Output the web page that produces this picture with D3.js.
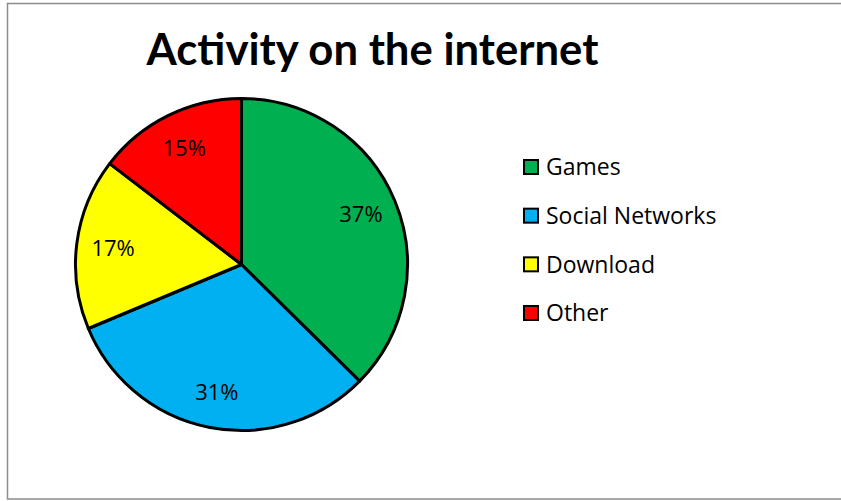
<!DOCTYPE html>
<html>
<head>
<meta charset="utf-8">
<script src="https://cdn.jsdelivr.net/npm/d3@7"></script>
<style>
  body { margin: 0; background: #fff; }
  svg { display: block; font-family: "Open Sans", sans-serif; }
</style>
</head>
<body>
<svg width="841" height="501"></svg>
<script>
const categories = ["Games", "Social Networks", "Download", "Other"];
const values = [37.4, 31.3, 16.7, 14.6];
const colors = ["#00B050", "#00B0F0", "#FFFF00", "#FF0000"];
const title = "Activity on the internet";

const svg = d3.select("svg");

// cadre gris
svg.append("rect")
    .attr("x", 7.5).attr("y", 3.5)
    .attr("width", 840).attr("height", 495.5)
    .attr("fill", "#fff")
    .attr("stroke", "#8c8c8c")
    .attr("stroke-width", 1.5);

// titre, taille ajustée pour la largeur
const t = svg.append("text")
    .attr("x", 372.5).attr("y", 65)
    .attr("text-anchor", "middle")
    .style("font-family", "Lato, sans-serif")
    .style("font-weight", "bold")
    .style("font-size", "36px")
    .text(title);
const w = t.node().getComputedTextLength();
t.style("font-size", (36 * 452 / w) + "px");

// camembert
const cx = 241.5, cy = 264.5, radius = 166;
const pie = d3.pie().sort(null).value(d => d);
const arc = d3.arc().innerRadius(0).outerRadius(radius);
const arcs = pie(values);

const g = svg.append("g").attr("transform", `translate(${cx},${cy})`);

g.selectAll("path")
    .data(arcs)
    .enter().append("path")
    .attr("d", arc)
    .attr("fill", (d, i) => colors[i])
    .attr("stroke", "#000")
    .attr("stroke-width", 3)
    .attr("stroke-linejoin", "round");

// étiquettes de pourcentage
const labelArc = d3.arc().innerRadius(radius * 0.78).outerRadius(radius * 0.78);
g.selectAll(".lbl")
    .data(arcs)
    .enter().append("text")
    .attr("class", "lbl")
    .attr("transform", d => "translate(" + labelArc.centroid(d) + ")")
    .attr("text-anchor", "middle")
    .attr("dy", "0.36em")
    .style("font-size", "22px")
    .text(d => Math.round(d.data) + "%");

// légende
const legendY = d3.scalePoint().domain(categories).range([167, 313]);
const leg = svg.selectAll(".leg")
    .data(categories)
    .enter().append("g")
    .attr("class", "leg")
    .attr("transform", d => "translate(524," + legendY(d) + ")");

leg.append("rect")
    .attr("x", 0).attr("y", -7)
    .attr("width", 14).attr("height", 14)
    .attr("fill", (d, i) => colors[i])
    .attr("stroke", "#000")
    .attr("stroke-width", 2);

leg.append("text")
    .attr("x", 22)
    .attr("dy", "0.36em")
    .style("font-size", "23px")
    .text(d => d);
</script>
</body>
</html>
